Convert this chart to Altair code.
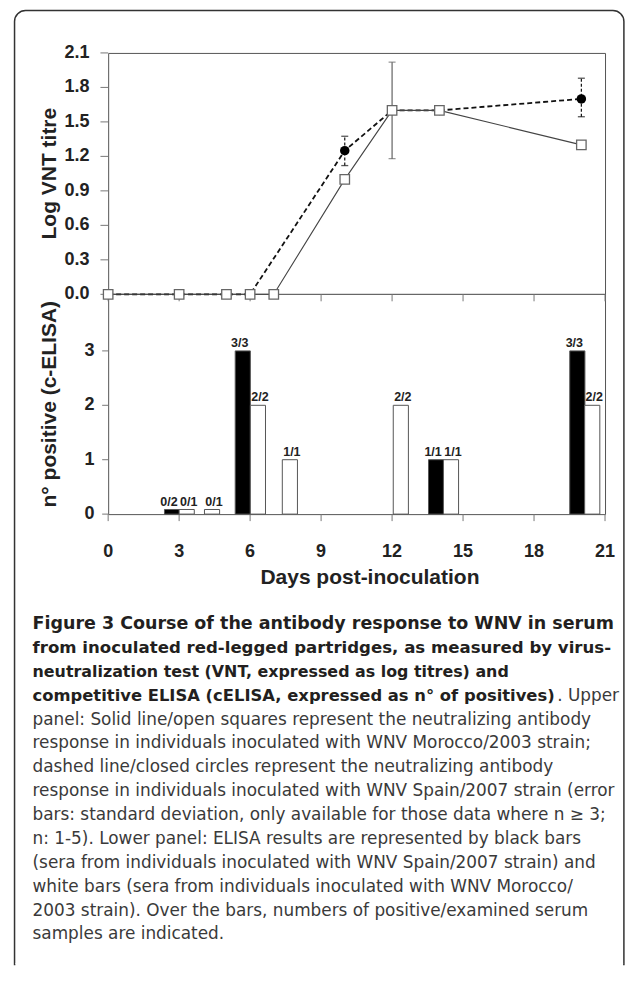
import altair as alt
import pandas as pd

# ---------------- data ----------------
x_ticks = [0, 3, 6, 9, 12, 15, 18, 21]
vnt_ticks = [0.0, 0.3, 0.6, 0.9, 1.2, 1.5, 1.8, 2.1]
elisa_ticks = [0, 1, 2, 3]

morocco_days = [0, 3, 5, 6, 7, 10, 12, 14, 20]
morocco_vnt = [0, 0, 0, 0, 0, 1.0, 1.6, 1.6, 1.3]
spain_days = [0, 3, 5, 6, 10, 12, 14, 20]
spain_vnt = [0, 0, 0, 0, 1.25, 1.6, 1.6, 1.7]

err_days = [10, 12, 20]
err_low = [1.12, 1.18, 1.545]
err_high = [1.375, 2.02, 1.88]
err_strain = ["Spain", "Morocco", "Spain"]

elisa_day = [2.70, 3.32, 4.39, 5.69, 6.33, 7.68, 12.37, 13.86, 14.49, 19.83, 20.46]
elisa_pos = [0, 0, 0, 3, 2, 1, 2, 1, 1, 3, 2]
elisa_strain = ["Spain", "Morocco", "Morocco", "Spain", "Morocco", "Morocco",
                "Morocco", "Spain", "Morocco", "Spain", "Morocco"]
elisa_label = ["0/2", "0/1", "0/1", "3/3", "2/2", "1/1", "2/2", "1/1", "1/1", "3/3", "2/2"]

y_title_top = "Log VNT titre"
y_title_bottom = "n° positive (c-ELISA)"
x_title = "Days post-inoculation"

caption_bold = [
    "Figure 3 Course of the antibody response to WNV in serum",
    "from inoculated red-legged partridges, as measured by virus-",
    "neutralization test (VNT, expressed as log titres) and",
    "competitive ELISA (cELISA, expressed as n° of positives)",
]
caption_tail = ". Upper"
caption_regular = [
    "panel: Solid line/open squares represent the neutralizing antibody",
    "response in individuals inoculated with WNV Morocco/2003 strain;",
    "dashed line/closed circles represent the neutralizing antibody",
    "response in individuals inoculated with WNV Spain/2007 strain (error",
    "bars: standard deviation, only available for those data where n ≥ 3;",
    "n: 1-5). Lower panel: ELISA results are represented by black bars",
    "(sera from individuals inoculated with WNV Spain/2007 strain) and",
    "white bars (sera from individuals inoculated with WNV Morocco/",
    "2003 strain). Over the bars, numbers of positive/examined serum",
    "samples are indicated.",
]

# ---------------- frames ----------------
morocco = pd.DataFrame({"day": morocco_days, "vnt": morocco_vnt})
spain = pd.DataFrame({"day": spain_days, "vnt": spain_vnt})
errs = pd.DataFrame({"day": err_days, "lo": err_low, "hi": err_high, "strain": err_strain})
elisa = pd.DataFrame({"day": elisa_day, "pos": elisa_pos, "strain": elisa_strain,
                      "label": elisa_label})
xt = pd.DataFrame({"t": x_ticks})
vt = pd.DataFrame({"v": vnt_ticks})
et = pd.DataFrame({"v": elisa_ticks})
one = pd.DataFrame({"k": [0]})

FONT = "Liberation Sans"
CAPFONT = "DejaVu Sans"
W = 497.3
H1 = 241.6
H2 = 220.0
HB = H1 + H2
OX, OY = 107.7, 51.7  # page position of the plot origin
TXT = "#222"
TICK = "#777"

xs = alt.Scale(domain=[0, 21], nice=False, zero=False)
ys1 = alt.Scale(domain=[0, 2.1], range=[H1, 0], nice=False, zero=False)
ys2 = alt.Scale(domain=[0, 4.04], range=[HB, H1], nice=False, zero=False)


def X(f):
    return alt.X(f, type="quantitative", scale=xs, axis=None)


def Y1(f):
    return alt.Y(f, type="quantitative", scale=ys1, axis=None)


def Y2(f):
    return alt.Y(f, type="quantitative", scale=ys2, axis=None)


# ---------------- decorations (border + caption) ----------------
BOTTOM = 964
RIGHT = 623.9
border = alt.Chart(one).mark_rect(
    fill="transparent", stroke="#333", strokeWidth=1.5,
    cornerRadiusTopLeft=11, cornerRadiusTopRight=11
).encode(x=alt.value(14 - OX), x2=alt.value(RIGHT - OX),
         y=alt.value(9.3 - OY), y2=alt.value(BOTTOM - OY))
cover = alt.Chart(one).mark_rule(stroke="white", strokeWidth=3).encode(
    x=alt.value(14.8 - OX), x2=alt.value(RIGHT - 0.8 - OX), y=alt.value(BOTTOM - OY))

LH = 23.9
base1 = 628.3
bold_sizes = [17.5, 16.6, 15.9, 16.4]
cap_bold_layers = [
    alt.Chart(one).mark_text(
        text=line, align="left", baseline="alphabetic", font=CAPFONT,
        fontSize=size, fontWeight="bold", color="#231f20"
    ).encode(x=alt.value(32 - OX), y=alt.value(base1 + i * LH - OY))
    for i, (line, size) in enumerate(zip(caption_bold, bold_sizes))
]
cap_tail = alt.Chart(one).mark_text(
    text=caption_tail, align="right", baseline="alphabetic", font=CAPFONT,
    fontSize=16.9, color="#3a3a3a"
).encode(x=alt.value(619 - OX), y=alt.value(base1 + 3 * LH - OY))
cap_reg_layers = [
    alt.Chart(one).mark_text(
        text=line, align="left", baseline="alphabetic", font=CAPFONT,
        fontSize=16.9, color="#3a3a3a"
    ).encode(x=alt.value(32 - OX), y=alt.value(base1 + (4 + i) * LH - OY))
    for i, line in enumerate(caption_regular)
]

# ---------------- upper panel ----------------
up_sep = alt.Chart(one).transform_calculate(z="0").mark_rule(
    color="#444", strokeWidth=1).encode(y=Y1("z"))
up_xticks = alt.Chart(xt).mark_rule(color=TICK, strokeWidth=1).encode(
    x=X("t"), y=alt.value(H1), y2=alt.value(H1 + 7))
up_yticks = alt.Chart(vt).mark_rule(color=TICK, strokeWidth=1).encode(
    x=alt.value(-7.7), x2=alt.value(0), y=Y1("v"))
up_ylabels = alt.Chart(vt).mark_text(
    font=FONT, fontSize=18, fontWeight="bold", color=TXT, align="right",
    baseline="middle"
).encode(x=alt.value(-18.7), y=Y1("v"), text=alt.Text("v:Q", format=".1f"))
up_title = alt.Chart(one).mark_text(
    text=y_title_top, font=FONT, fontSize=21, fontWeight="bold", color=TXT,
    angle=270, align="center", baseline="alphabetic"
).encode(x=alt.value(-52), y=alt.value(H1 / 2))

err_s = errs[errs.strain == "Spain"]
err_m = errs[errs.strain == "Morocco"]

spain_line = alt.Chart(spain).mark_line(
    color="#111", strokeWidth=1.8, strokeDash=[5, 3]
).encode(x=X("day"), y=Y1("vnt"))
spain_err = alt.Chart(err_s).mark_rule(color="#111", strokeWidth=1.2, strokeDash=[3, 2]).encode(
    x=X("day"), y=Y1("lo"), y2="hi:Q")
spain_cap_lo = alt.Chart(err_s).mark_tick(color="#111", thickness=1.3, size=7, orient="horizontal").encode(
    x=X("day"), y=Y1("lo"))
spain_cap_hi = alt.Chart(err_s).mark_tick(color="#111", thickness=1.3, size=7, orient="horizontal").encode(
    x=X("day"), y=Y1("hi"))
spain_pts = alt.Chart(spain).mark_point(
    shape="circle", filled=True, color="#000", size=90, opacity=1
).encode(x=X("day"), y=Y1("vnt"))

mor_err = alt.Chart(err_m).mark_rule(color="#555", strokeWidth=1.1).encode(
    x=X("day"), y=Y1("lo"), y2="hi:Q")
mor_cap_lo = alt.Chart(err_m).mark_tick(color="#555", thickness=1.1, size=7, orient="horizontal").encode(
    x=X("day"), y=Y1("lo"))
mor_cap_hi = alt.Chart(err_m).mark_tick(color="#555", thickness=1.1, size=7, orient="horizontal").encode(
    x=X("day"), y=Y1("hi"))
mor_line = alt.Chart(morocco).mark_line(color="#444", strokeWidth=1.1).encode(
    x=X("day"), y=Y1("vnt"))
mor_pts = alt.Chart(morocco).mark_point(
    shape="square", filled=True, fill="white", stroke="#666", strokeWidth=1.3,
    size=90, opacity=1
).encode(x=X("day"), y=Y1("vnt"))

upper = alt.layer(
    up_sep, up_xticks, up_yticks, up_ylabels, up_title,
    spain_line, spain_err, spain_cap_lo, spain_cap_hi, spain_pts,
    mor_err, mor_cap_lo, mor_cap_hi, mor_line, mor_pts,
)

# ---------------- lower panel ----------------
lo_xticks = alt.Chart(xt).mark_rule(color=TICK, strokeWidth=1).encode(
    x=X("t"), y=alt.value(HB), y2=alt.value(HB + 7))
lo_xlabels = alt.Chart(xt).mark_text(
    font=FONT, fontSize=18, fontWeight="bold", color=TXT, align="center",
    baseline="alphabetic"
).encode(x=X("t"), y=alt.value(HB + 43), text=alt.Text("t:Q", format="d"))
lo_xtitle = alt.Chart(one).mark_text(
    text=x_title, font=FONT, fontSize=21, fontWeight="bold", color=TXT,
    align="center", baseline="alphabetic"
).encode(x=alt.value(262), y=alt.value(HB + 70))
lo_yticks = alt.Chart(et).mark_rule(color=TICK, strokeWidth=1).encode(
    x=alt.value(-6), x2=alt.value(0), y=Y2("v"))
lo_ylabels = alt.Chart(et).mark_text(
    font=FONT, fontSize=18, fontWeight="bold", color=TXT, align="right",
    baseline="middle"
).encode(x=alt.value(-13.7), y=Y2("v"), text=alt.Text("v:Q", format="d"))
lo_title = alt.Chart(one).mark_text(
    text=y_title_bottom, font=FONT, fontSize=21, fontWeight="bold", color=TXT,
    angle=270, align="center", baseline="alphabetic"
).encode(x=alt.value(-52), y=alt.value(H1 + H2 / 2))

BAR_W = 0.64
bars_base = alt.Chart(elisa).transform_calculate(
    x0=f"datum.day - {BAR_W / 2}", x1=f"datum.day + {BAR_W / 2}",
    h="max(datum.pos, 0.085)"
)
bars = bars_base.mark_rect(stroke="#555", strokeWidth=1).encode(
    x=X("x0"),
    x2="x1:Q",
    y=Y2("h"),
    y2=alt.datum(0),
    fill=alt.Fill("strain:N", scale=alt.Scale(domain=["Spain", "Morocco"],
                                              range=["#000000", "#ffffff"]), legend=None),
)
text_spain = bars_base.transform_filter("datum.strain == 'Spain'").mark_text(
    font=FONT, fontSize=12.5, fontWeight="bold", color=TXT,
    baseline="alphabetic", dy=-4, dx=-3
).encode(x=X("day"), y=Y2("h"), text="label:N")
text_mor = bars_base.transform_filter("datum.strain == 'Morocco'").mark_text(
    font=FONT, fontSize=12.5, fontWeight="bold", color=TXT,
    baseline="alphabetic", dy=-4, dx=2
).encode(x=X("day"), y=Y2("h"), text="label:N")

lower = alt.layer(lo_xticks, lo_xlabels, lo_xtitle, lo_yticks, lo_ylabels, lo_title,
                  bars, text_spain, text_mor)

chart = alt.layer(
    border, cover, *cap_bold_layers, cap_tail, *cap_reg_layers, upper, lower
).resolve_scale(y="independent").properties(
    width=W, height=HB,
    padding={"left": 5.25, "top": 0.55, "right": 0, "bottom": 0}
).configure_view(stroke="#555", strokeWidth=1)

chart.save("out.html", embed_options={"renderer": "svg", "actions": False})
